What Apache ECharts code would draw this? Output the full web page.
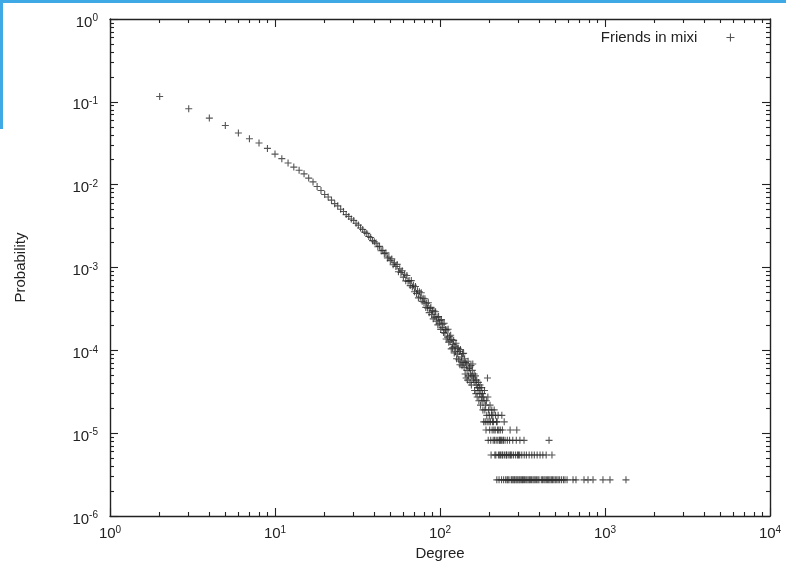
<!DOCTYPE html>
<html>
<head>
<meta charset="utf-8">
<script src="https://cdn.jsdelivr.net/npm/echarts@6/dist/echarts.min.js"></script>
<style>
  html, body { margin: 0; padding: 0; background: #ffffff; }
  #chart { width: 786px; height: 563px; }
</style>
</head>
<body>
<div id="chart"></div>
<script>
// Degree distribution of the mixi friendship network, log-log scatter.

const xMajorTicks = [1, 10, 100, 1000, 10000];
const xMinorTicks = [2, 3, 4, 5, 6, 7, 8, 9, 20, 30, 40, 50, 60, 70, 80, 90,
  200, 300, 400, 500, 600, 700, 800, 900, 2000, 3000, 4000, 5000, 6000, 7000, 8000, 9000];
const yMajorTicks = [1e-6, 1e-5, 1e-4, 1e-3, 1e-2, 1e-1, 1];
const yMinorTicks = [2e-6, 3e-6, 4e-6, 5e-6, 6e-6, 7e-6, 8e-6, 9e-6,
  2e-5, 3e-5, 4e-5, 5e-5, 6e-5, 7e-5, 8e-5, 9e-5,
  2e-4, 3e-4, 4e-4, 5e-4, 6e-4, 7e-4, 8e-4, 9e-4,
  0.002, 0.003, 0.004, 0.005, 0.006, 0.007, 0.008, 0.009,
  0.02, 0.03, 0.04, 0.05, 0.06, 0.07, 0.08, 0.09,
  0.2, 0.3, 0.4, 0.5, 0.6, 0.7, 0.8, 0.9];

const seriesName = 'Friends in mixi';

// [degree, probability]
const lowDegree = [
  [2, 0.116], [3, 0.0824], [4, 0.0636], [5, 0.0518], [6, 0.042], [7, 0.0358], [8, 0.0318],
  [9, 0.0274], [10, 0.0234], [11, 0.0206], [12, 0.0183], [13, 0.0163], [14, 0.0149],
  [15, 0.0135], [16, 0.012], [17, 0.0108], [18, 0.0095], [19, 0.0085], [20, 0.0076],
  [21, 0.0071], [22, 0.0065], [23, 0.0059], [24, 0.00555], [25, 0.00505], [26, 0.00475],
  [27, 0.00435], [28, 0.00412], [29, 0.00385], [30, 0.0037], [31, 0.00342], [32, 0.00325],
  [33, 0.003], [34, 0.00288], [35, 0.00267], [36, 0.00258], [37, 0.00237], [38, 0.0023],
  [39, 0.00211], [40, 0.00205]
];

const midDegree = [
  [41, 1.97e-3], [42, 1.78e-3], [43, 1.80e-3], [44, 1.59e-3], [45, 1.61e-3], [46, 1.47e-3],
  [47, 1.50e-3], [48, 1.30e-3], [49, 1.34e-3], [50, 1.21e-3], [51, 1.27e-3], [52, 1.08e-3],
  [53, 1.14e-3], [54, 1.03e-3], [55, 1.09e-3], [56, 8.9e-4], [57, 9.65e-4], [58, 8.7e-4],
  [59, 9.15e-4], [60, 7.65e-4], [61, 8.3e-4], [62, 6.9e-4], [63, 8.0e-4], [64, 6.8e-4],
  [65, 6.95e-4], [66, 6.05e-4], [67, 6.95e-4], [68, 5.8e-4], [69, 6.1e-4], [70, 5.1e-4],
  [71, 5.9e-4], [72, 4.85e-4], [73, 5.25e-4], [74, 4.3e-4], [75, 5.1e-4], [76, 4.4e-4],
  [77, 4.95e-4], [78, 3.9e-4], [79, 4.25e-4], [80, 3.75e-4], [81, 4.2e-4], [82, 3.3e-4],
  [83, 3.7e-4], [84, 3.25e-4], [85, 3.75e-4], [86, 2.85e-4], [87, 3.2e-4], [88, 3.3e-4],
  [89, 2.7e-4], [90, 3.0e-4], [91, 2.4e-4], [92, 2.98e-4], [93, 2.52e-4], [94, 2.92e-4],
  [95, 2.24e-4], [96, 2.52e-4], [97, 2.03e-4], [98, 2.56e-4], [99, 2.12e-4], [100, 2.3e-4],
  [101, 1.79e-4], [102, 2.35e-4], [103, 1.88e-4], [104, 2.07e-4], [105, 1.64e-4], [106, 2.12e-4],
  [107, 1.61e-4], [108, 1.79e-4], [109, 1.37e-4], [110, 1.76e-4], [111, 1.44e-4], [112, 1.80e-4],
  [113, 1.25e-4], [114, 1.48e-4], [115, 1.29e-4], [116, 1.52e-4], [117, 1.04e-4], [118, 1.35e-4],
  [119, 1.07e-4], [120, 1.18e-4], [121, 1.32e-4], [122, 9.3e-5], [123, 1.12e-4], [124, 9.6e-5],
  [125, 1.22e-4], [126, 7.9e-5], [127, 1.07e-4], [128, 9.0e-5], [129, 1.06e-4], [130, 7.7e-5],
  [131, 9.7e-5], [132, 6.7e-5], [133, 1.02e-4], [134, 7.4e-5], [135, 8.3e-5], [136, 6.5e-5],
  [137, 9.1e-5], [138, 7.1e-5], [139, 9.2e-5], [140, 6.2e-5]
];

const highDegree = [
  [141, 7.92e-5], [142, 5.19e-5], [143, 7.1e-5], [144, 4.64e-5], [145, 6.83e-5], [146, 5.73e-5],
  [147, 4.37e-5], [148, 7.37e-5], [149, 4.91e-5], [150, 6.01e-5], [151, 6.28e-5], [152, 4.1e-5],
  [153, 5.19e-5], [154, 6.55e-5], [155, 3.82e-5], [156, 4.91e-5], [157, 5.73e-5], [158, 6.83e-5],
  [159, 4.64e-5], [160, 4.37e-5], [161, 5.19e-5], [162, 3.28e-5], [163, 4.1e-5], [164, 4.91e-5],
  [165, 3.0e-5], [166, 3.82e-5], [167, 4.37e-5], [168, 2.73e-5], [169, 3.55e-5], [170, 3.28e-5],
  [171, 4.1e-5], [172, 2.46e-5], [173, 3.55e-5], [174, 3.0e-5], [175, 3.82e-5], [176, 2.18e-5],
  [177, 3.28e-5], [178, 2.73e-5], [179, 3.55e-5], [180, 2.46e-5], [181, 3.0e-5], [182, 1.91e-5],
  [183, 2.73e-5], [184, 1.37e-5], [185, 2.46e-5], [186, 3.28e-5], [187, 1.91e-5], [188, 1.37e-5],
  [189, 2.18e-5], [190, 1.09e-5], [191, 2.46e-5], [192, 1.64e-5], [193, 1.37e-5], [194, 4.64e-5],
  [195, 2.73e-5], [196, 8.19e-6], [197, 1.91e-5], [198, 1.37e-5], [199, 1.64e-5], [200, 1.09e-5],
  [201, 2.18e-5], [202, 1.37e-5], [203, 8.19e-6], [204, 5.46e-6], [205, 1.64e-5], [206, 1.91e-5],
  [207, 1.09e-5], [208, 1.37e-5], [209, 1.64e-5], [210, 8.19e-6], [211, 1.37e-5], [212, 1.09e-5],
  [213, 1.91e-5], [214, 8.19e-6], [215, 5.46e-6], [216, 1.09e-5], [217, 1.64e-5], [218, 5.46e-6],
  [219, 8.19e-6], [220, 1.37e-5], [221, 2.73e-6], [222, 1.37e-5], [223, 1.09e-5], [224, 8.19e-6],
  [225, 1.64e-5], [226, 5.46e-6], [227, 1.09e-5], [228, 2.73e-6], [229, 8.19e-6], [230, 5.46e-6],
  [231, 8.19e-6], [232, 1.09e-5], [233, 5.46e-6], [234, 8.19e-6], [235, 8.19e-6], [236, 2.73e-6],
  [237, 1.64e-5], [238, 5.46e-6], [239, 1.09e-5], [240, 5.46e-6]
];

const tailDegree = [
  [241, 8.19e-6], [242, 8.19e-6], [243, 2.73e-6], [245, 1.37e-5], [246, 5.46e-6], [248, 8.19e-6],
  [250, 2.73e-6], [252, 5.46e-6], [253, 5.46e-6], [255, 2.73e-6], [256, 8.19e-6], [258, 2.73e-6],
  [259, 5.46e-6], [262, 2.73e-6], [264, 8.19e-6], [265, 5.46e-6], [266, 1.09e-5], [268, 5.46e-6],
  [270, 2.73e-6], [272, 5.46e-6], [273, 2.73e-6], [276, 8.19e-6], [277, 2.73e-6], [279, 5.46e-6],
  [281, 2.73e-6], [284, 2.73e-6], [287, 5.46e-6], [289, 2.73e-6], [290, 8.19e-6], [292, 1.09e-5],
  [293, 2.73e-6], [295, 5.46e-6], [297, 2.73e-6], [299, 5.46e-6], [302, 2.73e-6], [304, 5.46e-6],
  [305, 8.19e-6], [306, 2.73e-6], [311, 2.73e-6], [313, 5.46e-6], [316, 2.73e-6], [320, 2.73e-6],
  [323, 8.19e-6], [324, 5.46e-6], [325, 2.73e-6], [331, 2.73e-6], [334, 5.46e-6], [336, 2.73e-6],
  [342, 2.73e-6], [347, 5.46e-6], [348, 2.73e-6], [353, 2.73e-6], [359, 2.73e-6], [360, 5.46e-6],
  [366, 2.73e-6], [372, 2.73e-6], [373, 5.46e-6], [378, 2.73e-6], [385, 2.73e-6], [388, 5.46e-6],
  [392, 2.73e-6], [398, 2.73e-6], [404, 5.46e-6], [411, 2.73e-6], [418, 2.73e-6], [420, 5.46e-6],
  [426, 2.73e-6], [433, 2.73e-6], [440, 5.46e-6], [441, 2.73e-6], [449, 2.73e-6], [456, 2.73e-6],
  [458, 8.19e-6], [464, 2.73e-6], [473, 2.73e-6], [477, 5.46e-6], [481, 2.73e-6], [490, 2.73e-6],
  [500, 2.73e-6], [510, 2.73e-6], [520, 2.73e-6], [531, 2.73e-6], [545, 2.73e-6], [560, 2.73e-6],
  [572, 2.73e-6], [589, 2.73e-6], [640, 2.73e-6], [667, 2.73e-6], [746, 2.73e-6], [789, 2.73e-6],
  [846, 2.73e-6], [972, 2.73e-6], [1072, 2.73e-6], [1340, 2.73e-6]
];

const FONT = '"Liberation Sans", Arial, Helvetica, sans-serif';
const INK = '#222222';
const MARK = '#2c2c2c';
const PLUS = 'path://M0,5L10,5M5,0L5,10';

function powerLabel(extra) {
  return Object.assign({
    fontFamily: FONT,
    color: INK,
    formatter: function (v) {
      return '{b|10}{s|' + Math.round(Math.log10(v)) + '}';
    },
    rich: {
      b: { fontFamily: FONT, fontSize: 15, color: INK },
      s: { fontFamily: FONT, fontSize: 10, color: INK, padding: [0, 0, 8, 0] }
    }
  }, extra);
}

function makeAxis(kind, position, ticks, tickLen, showLine, label, extra) {
  const ax = {
    type: 'log',
    logBase: 10,
    position: position,
    min: kind === 'x' ? 1 : 1e-6,
    max: kind === 'x' ? 10000 : 1,
    axisLine: { show: showLine, onZero: false, lineStyle: { color: INK, width: 1.4 } },
    axisTick: {
      show: true, inside: true, length: tickLen, customValues: ticks,
      lineStyle: { color: INK, width: 1.1 }
    },
    axisLabel: label ? Object.assign({ customValues: ticks }, label) : { show: false },
    splitLine: { show: false },
    minorTick: { show: false },
    minorSplitLine: { show: false },
    axisPointer: { show: false }
  };
  return Object.assign(ax, extra || {});
}

const chart = echarts.init(document.getElementById('chart'), null, { renderer: 'canvas' });

chart.setOption({
  animation: false,
  backgroundColor: '#ffffff',
  grid: { left: 110, right: 16, top: 19, bottom: 47, containLabel: false, outerBoundsMode: 'none' },
  xAxis: [
    makeAxis('x', 'bottom', xMajorTicks, 8, true, powerLabel({ margin: 9 }), {
      name: 'Degree', nameLocation: 'middle', nameGap: 30,
      nameTextStyle: { fontFamily: FONT, fontSize: 15, color: INK }
    }),
    makeAxis('x', 'bottom', xMinorTicks, 4, false, null),
    makeAxis('x', 'top', xMajorTicks, 8, true, null),
    makeAxis('x', 'top', xMinorTicks, 4, false, null)
  ],
  yAxis: [
    makeAxis('y', 'left', yMajorTicks, 8, true, powerLabel({ margin: 12, padding: [7, 0, 0, 0] }), {
      name: 'Probability', nameLocation: 'middle', nameGap: 82,
      nameTextStyle: { fontFamily: FONT, fontSize: 15, color: INK }
    }),
    makeAxis('y', 'left', yMinorTicks, 4, false, null),
    makeAxis('y', 'right', yMajorTicks, 8, true, null),
    makeAxis('y', 'right', yMinorTicks, 4, false, null)
  ],
  legend: {
    data: [{ name: seriesName, icon: PLUS }],
    right: 46,
    top: 25,
    align: 'right',
    itemWidth: 8,
    itemHeight: 8,
    selectedMode: false,
    textStyle: { fontFamily: FONT, fontSize: 15, color: INK, padding: [0, 24, 0, 0] },
    itemStyle: { color: 'rgba(0,0,0,0)', borderColor: MARK, borderWidth: 1.1 }
  },
  graphic: [
    { type: 'rect', silent: true, shape: { x: 0, y: 0, width: 786, height: 3 }, style: { fill: '#3fa9e6' } },
    { type: 'rect', silent: true, shape: { x: 0, y: 0, width: 3, height: 129 }, style: { fill: '#3fa9e6' } }
  ],
  series: [{
    name: seriesName,
    type: 'scatter',
    xAxisIndex: 0,
    yAxisIndex: 0,
    symbol: PLUS,
    symbolSize: 7,
    silent: true,
    itemStyle: { color: 'rgba(0,0,0,0)', borderColor: MARK, borderWidth: 1.1 },
    data: lowDegree.concat(midDegree, highDegree, tailDegree)
  }]
});
</script>
</body>
</html>
